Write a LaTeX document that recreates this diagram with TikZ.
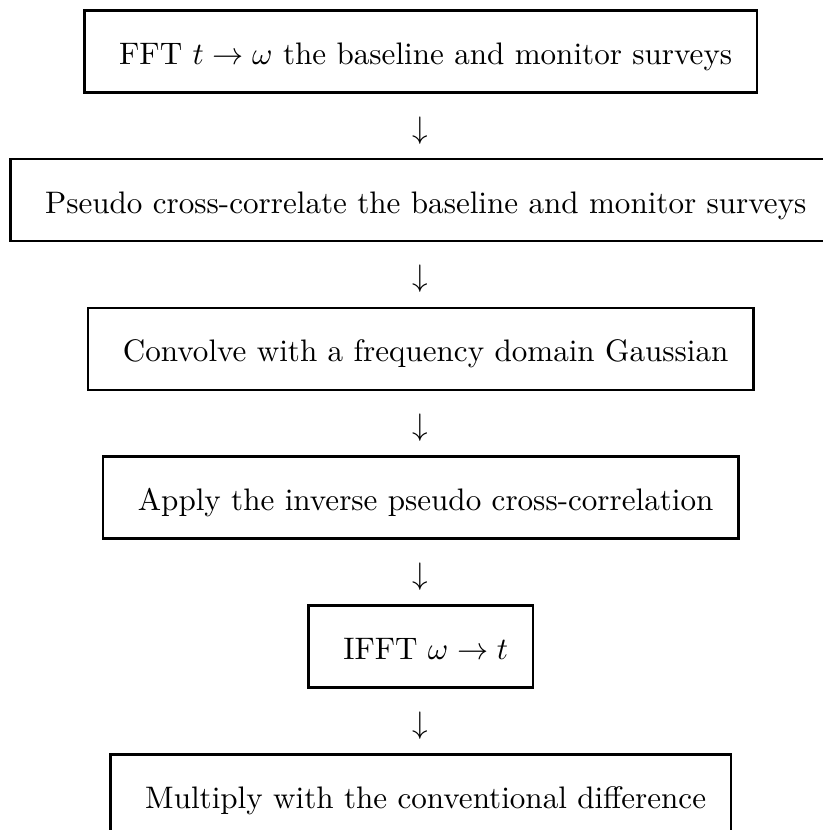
\documentclass[tikz,border=0pt]{standalone}
\begin{document}
\begin{tikzpicture}[x=0.3215pt,y=-0.3215pt,
  stepbox/.style={draw=black, line width=0.85pt, inner xsep=8pt, inner ysep=0pt,
    text height=17.36pt, text depth=9pt, anchor=north},
  arrowglyph/.style={inner sep=0pt, anchor=base}]
\useasboundingbox (0,0) rectangle (822,830);
\node[stepbox] (b1) at (420.7,9) {\hspace{3.2pt}FFT $t \rightarrow \omega$ the baseline and monitor surveys};
\node[arrowglyph] (a1) at (420,138) {$\downarrow$};
\node[stepbox, anchor=north west] (b2) at (9,157.8) {\hspace{3.2pt}Pseudo cross-correlate the baseline and monitor surveys\hspace{6pt}};
\node[arrowglyph] (a2) at (420,286.8) {$\downarrow$};
\node[stepbox] (b3) at (420.7,306.6) {\hspace{3.2pt}Convolve with a frequency domain Gaussian};
\node[arrowglyph] (a3) at (420,435.6) {$\downarrow$};
\node[stepbox] (b4) at (420.7,455.4) {\hspace{3.2pt}Apply the inverse pseudo cross-correlation};
\node[arrowglyph] (a4) at (420,584.4) {$\downarrow$};
\node[stepbox] (b5) at (420.7,604.2) {\hspace{3.2pt}IFFT $\omega \rightarrow t$};
\node[arrowglyph] (a5) at (420,733.2) {$\downarrow$};
\node[stepbox] (b6) at (420.7,753) {\hspace{3.2pt}Multiply with the conventional difference};
\end{tikzpicture}
\end{document}
